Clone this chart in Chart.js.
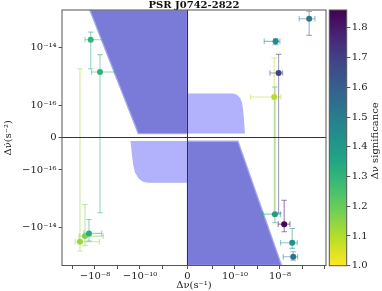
<!DOCTYPE html>
<html>
<head>
<meta charset="utf-8">
<script src="https://cdn.jsdelivr.net/npm/chart.js@4.4.0/dist/chart.umd.min.js"></script>
<style>
  html, body { margin: 0; padding: 0; background: #fff; }
  #wrap { position: relative; width: 382px; height: 291px; }
  #wrap canvas { position: absolute; left: 0; top: 0; }
</style>
</head>
<body>
<div id="wrap">
  <canvas id="mainChart" width="382" height="291"></canvas>
  <canvas id="cbarChart" width="382" height="291"></canvas>
</div>
<script>
// Datos (unidades reales: s^-1 y s^-2)
const dNu      = [-1.55e-8, -6.0e-9, -4.65e-8, -2.79e-8, -1.85e-8, 2.0e-7, 6.44e-9, 8.75e-9, 5.58e-9, 6.0e-9, 1.55e-8, 3.52e-8, 3.9e-8];
const dNuLo    = [-2.79e-8, -1.43e-8, -7.74e-8, -5.14e-8, -3.08e-8, 7.2e-8, 2.0e-9, 3.6e-9, 5.0e-10, 1.7e-9, 8.4e-9, 1.07e-8, 1.4e-8];
const dNuHi    = [-4.27e-9, -1.29e-9, -6.44e-9, -4.27e-9, -5.0e-9, 3.6e-7, 1.0e-8, 1.32e-8, 1.11e-8, 1.07e-8, 2.79e-8, 5.87e-8, 6.12e-8];
const dNuDot   = [1.88e-14, 1.44e-15, -3.03e-14, -1.93e-14, -1.56e-14, 9.98e-14, 1.65e-14, 1.33e-15, 1.98e-16, -3.37e-15, -7.45e-15, -3.29e-14, -9.98e-14];
const dNuDotLo = [1.88e-15, -3.03e-15, -6.35e-14, -4.17e-14, -2.87e-14, 2.65e-14, 1.27e-14, -3.1e-15, -3.8e-15, -6.7e-15, -1.37e-14, -5.13e-14, -1.3e-13];
const dNuDotHi = [3.44e-14, 5.73e-15, 1.88e-15, -1.56e-15, -5.13e-15, 1.78e-13, 2.04e-14, 5.86e-15, 4.38e-15, 4.38e-16, -1.11e-15, -1.05e-14, -6.7e-14];
const signif   = [1.30, 1.31, 1.13, 1.17, 1.33, 1.52, 1.46, 1.69, 1.09, 1.39, 1.85, 1.43, 1.53];

// Regiones sombreadas [dNu, dNuDot]
const regionUL = [[-1.70e-8, 2e-13], [-1.19e-10, 1.3e-17], [0, 1.3e-17], [0, 2e-13]];
const regionLR = [[0, -1.09e-17], [1.36e-10, -1.09e-17], [1.19e-8, -2e-13], [0, -2e-13]];
const regionUR = [[0, 1.3e-17], [0, 2.6e-16], [8.1e-11, 2.6e-16], [1.23e-10, 2.36e-16], [1.67e-10, 1.85e-16],
                  [2.05e-10, 1.3e-16], [2.34e-10, 8.5e-17], [2.64e-10, 3.9e-17], [2.79e-10, 1.3e-17]];
const regionLL = [[0, -9.9e-18], [-2.64e-10, -9.9e-18], [-2.27e-10, -5.4e-17], [-1.99e-10, -8.5e-17], [-1.67e-10, -1.2e-16],
                  [-1.17e-10, -1.93e-16], [-7.4e-11, -2.55e-16], [-4.4e-11, -2.8e-16], [0, -2.8e-16]];

// Ejes
const xTickVals   = [-1e-7, -1e-8, -1e-9, -1e-10, -1e-11, 0, 1e-11, 1e-10, 1e-9, 1e-8, 1e-7, 1e-6];
const xTickLabels = ['', '\u221210\u207B\u2078', '', '\u221210\u207B\u00B9\u2070', '', '0', '', '10\u207B\u00B9\u2070', '', '10\u207B\u2078', '', ''];
const yTickVals   = [-1e-14, -1e-16, 0, 1e-16, 1e-14];
const yTickLabels = ['\u221210\u207B\u00B9\u2074', '\u221210\u207B\u00B9\u2076', '0', '10\u207B\u00B9\u2076', '10\u207B\u00B9\u2074'];
const cbTickVals  = [1.0, 1.1, 1.2, 1.3, 1.4, 1.5, 1.6, 1.7, 1.8];

const X_LIN = 1e-11, Y_LIN = 1e-16;
const X_MIN = -2.93e-7, X_MAX = 1.12e-6;
const Y_MIN = -2e-13, Y_MAX = 2e-13;
const CB_MIN = 1.0, CB_MAX = 1.86;

const FONT = "'DejaVu Serif', serif";
const VIRIDIS = ['#440154', '#482475', '#414487', '#355f8d', '#2a788e', '#21918c',
                 '#22a884', '#44bf70', '#7ad151', '#bddf26', '#fde725'];

// escala symlog (como matplotlib, linscale = 1)
const C_LIN = 1 / (1 - 1 / 10);
function symlog(v, lin) {
    const a = Math.abs(v);
    if (a <= lin) return v / lin * C_LIN;
    return Math.sign(v) * (C_LIN + Math.log10(a / lin));
}
const sx = v => symlog(v, X_LIN);
const sy = v => symlog(v, Y_LIN);

function hexRgb(h) {
    return [parseInt(h.slice(1, 3), 16), parseInt(h.slice(3, 5), 16), parseInt(h.slice(5, 7), 16)];
}
function viridis(f, alpha) {
    f = Math.min(1, Math.max(0, f));
    const p = f * (VIRIDIS.length - 1);
    const i = Math.min(Math.floor(p), VIRIDIS.length - 2);
    const t = p - i;
    const a = hexRgb(VIRIDIS[i]), b = hexRgb(VIRIDIS[i + 1]);
    const c = a.map((v, k) => Math.round(v + (b[k] - v) * t));
    return `rgba(${c[0]}, ${c[1]}, ${c[2]}, ${alpha === undefined ? 1 : alpha})`;
}
// viridis invertido: 1.0 amarillo, 1.86 morado
const sigFrac = s => 1 - (s - CB_MIN) / (CB_MAX - CB_MIN);

const framePlugin = {
    id: 'frame',
    afterDraw(chart) {
        const { ctx, chartArea: a } = chart;
        ctx.save();
        ctx.strokeStyle = '#555';
        ctx.lineWidth = 1;
        ctx.strokeRect(a.left, a.top, a.right - a.left, a.bottom - a.top);
        ctx.restore();
    }
};

document.addEventListener('DOMContentLoaded', function() {
    Chart.defaults.font.family = FONT;
    Chart.defaults.color = '#222';

    const datasets = [];

    // Puntos
    datasets.push({
        data: dNu.map((x, i) => ({ x: sx(x), y: sy(dNuDot[i]) })),
        showLine: false,
        pointRadius: 3,
        pointBorderWidth: 0,
        pointBackgroundColor: signif.map(s => viridis(sigFrac(s))),
        order: 0
    });

    // Barras de error
    dNu.forEach((x, i) => {
        const col = viridis(sigFrac(signif[i]), 0.5);
        const bar = (pts, rot) => ({
            data: pts,
            showLine: true,
            borderColor: col,
            borderWidth: 1.1,
            pointStyle: 'line',
            pointRadius: 2.8,
            pointRotation: rot,
            pointBorderColor: col,
            pointBorderWidth: 1.1,
            fill: false,
            order: 1
        });
        datasets.push(bar([{ x: sx(dNuLo[i]), y: sy(dNuDot[i]) }, { x: sx(dNuHi[i]), y: sy(dNuDot[i]) }], 90));
        datasets.push(bar([{ x: sx(x), y: sy(dNuDotLo[i]) }, { x: sx(x), y: sy(dNuDotHi[i]) }], 0));
    });

    // Regiones
    const region = (pts, color, edge) => ({
        data: pts.concat([pts[0]]).map(p => ({ x: sx(p[0]), y: sy(p[1]) })),
        showLine: true,
        fill: 'shape',
        backgroundColor: color,
        borderColor: edge || 'rgba(0,0,0,0)',
        borderWidth: edge ? 1.3 : 0,
        pointRadius: 0,
        order: 2
    });
    datasets.push(region(regionUL, '#7a7ad9', '#a7a7ef'));
    datasets.push(region(regionLR, '#7a7ad9', '#a7a7ef'));
    datasets.push(region(regionUR, '#b1b1fc'));
    datasets.push(region(regionLL, '#b1b1fc'));

    const gridColor = ctx => (ctx.tick && ctx.tick.value === 0) ? '#333' : 'rgba(0,0,0,0)';

    new Chart(document.getElementById('mainChart'), {
        type: 'line',
        data: { datasets: datasets },
        plugins: [framePlugin],
        options: {
            responsive: false,
            animation: false,
            events: [],
            devicePixelRatio: 1,
            layout: { padding: { left: 0, right: 56, top: 0, bottom: 0 } },
            plugins: {
                legend: { display: false },
                tooltip: { enabled: false },
                title: {
                    display: true,
                    text: 'PSR J0742-2822',
                    fullSize: false,
                    color: '#111',
                    font: { family: FONT, size: 10, weight: 'bold', lineHeight: 1 },
                    padding: { top: 0, bottom: 0 }
                }
            },
            scales: {
                x: {
                    type: 'linear',
                    min: sx(X_MIN),
                    max: sx(X_MAX),
                    afterBuildTicks: sc => { sc.ticks = xTickVals.map(v => ({ value: sx(v) })); },
                    afterFit: sc => { sc.height = 25.5; },
                    ticks: {
                        callback: (v, i) => xTickLabels[i],
                        autoSkip: false,
                        maxRotation: 0,
                        padding: 1,
                        font: { family: FONT, size: 10 }
                    },
                    grid: { color: gridColor, tickColor: '#555', tickLength: 3.5, lineWidth: 1, z: 1 },
                    border: { display: false },
                    title: {
                        display: true,
                        text: '\u0394\u03BD(s\u207B\u00B9)',
                        font: { family: FONT, size: 10 },
                        padding: { top: 1, bottom: 0 }
                    }
                },
                y: {
                    type: 'linear',
                    min: sy(Y_MIN),
                    max: sy(Y_MAX),
                    afterBuildTicks: sc => { sc.ticks = yTickVals.map(v => ({ value: sy(v) })); },
                    afterFit: sc => { sc.width = 62; },
                    ticks: {
                        callback: (v, i) => yTickLabels[i],
                        autoSkip: false,
                        padding: 2,
                        font: { family: FONT, size: 10 }
                    },
                    grid: { color: gridColor, tickColor: '#555', tickLength: 3.5, lineWidth: 1, z: 1 },
                    border: { display: false },
                    title: {
                        display: true,
                        text: '\u0394\u03BD\u0307(s\u207B\u00B2)',
                        font: { family: FONT, size: 10 },
                        padding: { top: 2, bottom: 0 }
                    }
                }
            }
        }
    });

    // Barra de color
    const cbLabel = {
        id: 'cbLabel',
        afterDraw(chart) {
            const { ctx, chartArea: a } = chart;
            ctx.save();
            ctx.translate(375, (a.top + a.bottom) / 2 + 3);
            ctx.rotate(-Math.PI / 2);
            ctx.textAlign = 'center';
            ctx.textBaseline = 'middle';
            ctx.fillStyle = '#222';
            ctx.font = '10px ' + FONT;
            ctx.fillText('\u0394\u03BD significance', 0, 0);
            ctx.restore();
        }
    };

    new Chart(document.getElementById('cbarChart'), {
        type: 'bar',
        data: {
            labels: ['sig'],
            datasets: [{
                data: [[CB_MIN, CB_MAX]],
                barPercentage: 1,
                categoryPercentage: 1,
                borderWidth: 0,
                backgroundColor: function(ctx) {
                    const a = ctx.chart.chartArea;
                    if (!a) return '#888';
                    const g = ctx.chart.ctx.createLinearGradient(0, a.bottom, 0, a.top);
                    VIRIDIS.forEach((c, k) => g.addColorStop(1 - k / (VIRIDIS.length - 1), c));
                    return g;
                }
            }]
        },
        plugins: [framePlugin, cbLabel],
        options: {
            responsive: false,
            animation: false,
            events: [],
            devicePixelRatio: 1,
            layout: { padding: { left: 329.3, right: 0, top: 10, bottom: 25.3 } },
            plugins: { legend: { display: false }, tooltip: { enabled: false } },
            scales: {
                x: { display: false },
                y: {
                    position: 'right',
                    min: CB_MIN,
                    max: CB_MAX,
                    afterBuildTicks: sc => { sc.ticks = cbTickVals.map(v => ({ value: v })); },
                    afterFit: sc => { sc.width = 35.3; },
                    ticks: {
                        callback: v => v.toFixed(1),
                        padding: 1.5,
                        font: { family: FONT, size: 10 }
                    },
                    grid: { drawOnChartArea: false, tickColor: '#555', tickLength: 3.5 },
                    border: { display: false }
                }
            }
        }
    });
});
</script>
</body>
</html>
